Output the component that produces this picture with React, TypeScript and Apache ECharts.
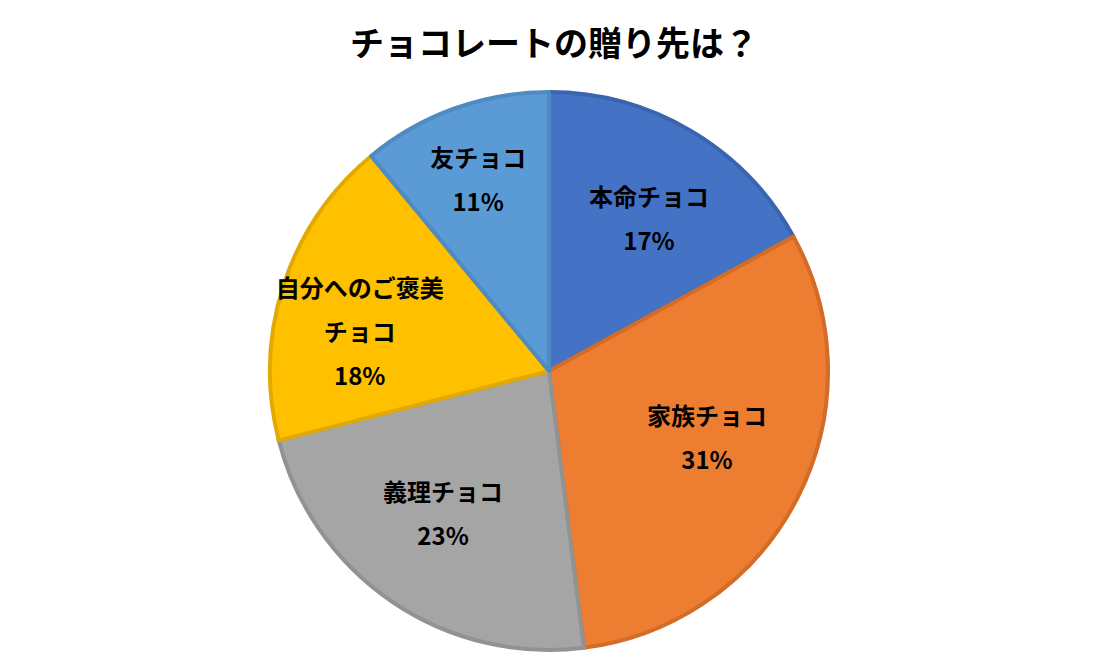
import React, { useEffect, useRef } from 'react';
import * as echarts from 'echarts';

const categories = ['本命チョコ', '家族チョコ', '義理チョコ', '自分へのご褒美チョコ', '友チョコ'];
const shares = [17, 31, 23, 18, 11];
const fills = ['#4472C4', '#ED7D31', '#A5A5A5', '#FFC000', '#5B9BD5'];
const borders = ['#3B64AE', '#D26C27', '#929292', '#E2AA00', '#4F8AC0'];

// small label nudges, Excel's "best fit" doesn't sit exactly on the mid radius
const labelNudge = [
    [4, 9],
    [-10, -20],
    [0, -14],
    [-10, 18],
    [-7, -15],
];

const FONT = '"Noto Sans CJK JP", "Noto Sans", sans-serif';

// long names break after the 7th character, like the original
const labelText = (name: string, value: number) => {
    const shown = name.length > 7 ? name.slice(0, 7) + '\n' + name.slice(7) : name;
    return shown + '\n' + value + '%';
};

const App = () => {
    const chartRef = useRef(null);

    useEffect(() => {
        document.body.style.margin = '0';
        const myChart = echarts.init(chartRef.current, null, { renderer: 'svg' });

        const data = categories.map((name, i) => ({ name, value: shares[i] }));

        myChart.setOption({
            animation: false,
            title: {
                text: 'チョコレートの贈り先は？',
                left: 549,
                textAlign: 'center',
                top: 19,
                textStyle: {
                    fontFamily: FONT,
                    fontSize: 34,
                    fontWeight: 'bold',
                    color: '#000',
                },
            },
            series: [
                {
                    name: 'slices',
                    type: 'pie',
                    radius: [0, 279],
                    center: [549, 371],
                    startAngle: 90,
                    clockwise: true,
                    silent: true,
                    label: { show: false },
                    labelLine: { show: false },
                    data: data.map((d, i) => ({
                        ...d,
                        itemStyle: { color: fills[i], borderColor: borders[i], borderWidth: 4 },
                    })),
                },
                {
                    // transparent overlay so labels sit a bit further out than the mid radius
                    name: 'labels',
                    type: 'pie',
                    radius: [92, 279],
                    center: [549, 371],
                    startAngle: 90,
                    clockwise: true,
                    silent: true,
                    itemStyle: { color: 'transparent', borderWidth: 0 },
                    label: {
                        show: true,
                        position: 'inside',
                        formatter: (p: any) => labelText(p.name, p.value),
                        fontFamily: FONT,
                        fontSize: 24,
                        fontWeight: 'bold',
                        color: '#000',
                        lineHeight: 44,
                    },
                    labelLayout: (p: any) => ({
                        dx: labelNudge[p.dataIndex][0],
                        dy: labelNudge[p.dataIndex][1],
                    }),
                    labelLine: { show: false },
                    data: data,
                },
            ],
        });

        return () => {
            myChart.dispose();
        };
    }, []);

    return <div ref={chartRef} style={{ width: '1111px', height: '669px' }} />;
};

export default App;
